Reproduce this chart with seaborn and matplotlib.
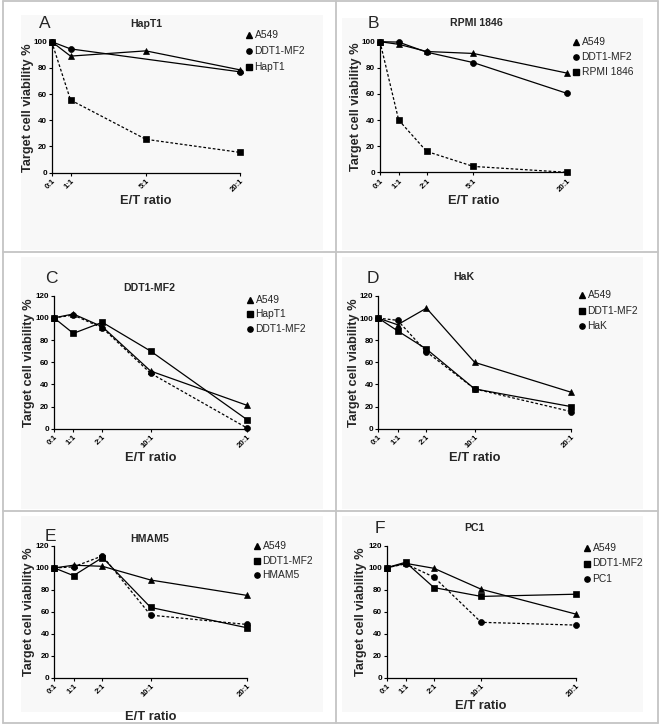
import numpy as np
import pandas as pd
import matplotlib
matplotlib.use("Agg")
import matplotlib.pyplot as plt
from matplotlib.lines import Line2D
from matplotlib.patches import Rectangle
import seaborn as sns

sns.set_style("ticks")
plt.rcParams['font.family'] = ['Liberation Sans', 'DejaVu Sans']

# ---------------- data ----------------
nan = np.nan
# Panel A : HapT1
a_labels = ['0:1', '1:1', '5:1', '20:1']
a_x = [0, 2, 10, 20]
a_series = ['A549', 'DDT1-MF2', 'HapT1']
a_A549 = [100, 89, 93, 78.5]
a_DDT1 = [100, 94.5, nan, 77]
a_HapT1 = [100, 55.5, 25.5, 15.5]

# Panel B : RPMI 1846
b_labels = ['0:1', '1:1', '2:1', '5:1', '20:1']
b_x = [0, 2, 5, 10, 20]
b_series = ['A549', 'DDT1-MF2', 'RPMI 1846']
b_A549 = [100, 98, 92.5, 91, 76]
b_DDT1 = [100, 99.7, 92, 84, 60.5]
b_RPMI = [100, 40, 16, 4.5, 0]

# Panel C : DDT1-MF2
c_labels = ['0:1', '1:1', '2:1', '10:1', '20:1']
c_x = [0, 2, 5, 10, 20]
c_series = ['A549', 'HapT1', 'DDT1-MF2']
c_A549 = [100, 103.5, 92, 52, 21]
c_HapT1 = [100, 86, 96, 70, 8]
c_DDT1 = [100, 102.5, 91, 50, 0.5]

# Panel D : HaK
d_labels = ['0:1', '1:1', '2:1', '10:1', '20:1']
d_x = [0, 2, 5, 10, 20]
d_series = ['A549', 'DDT1-MF2', 'HaK']
d_A549 = [100, 94, 109, 60, 33]
d_DDT1 = [100, 88.5, 72, 36, 20]
d_HaK = [100, 98, 69.5, 36, 15.5]

# Panel E : HMAM5
e_labels = ['0:1', '1:1', '2:1', '10:1', '20:1']
e_x = [0, 2, 5, 10, 20]
e_series = ['A549', 'DDT1-MF2', 'HMAM5']
e_A549 = [100, 102.5, 101.5, 89, 75]
e_DDT1 = [100, 93, 109.5, 64, 45.5]
e_HMAM5 = [100, 101, 111, 57, 48.5]

# Panel F : PC1
f_labels = ['0:1', '1:1', '2:1', '10:1', '20:1']
f_x = [0, 2, 5, 10, 20]
f_series = ['A549', 'DDT1-MF2', 'PC1']
f_A549 = [100, 104, 99.5, 80.5, 58]
f_DDT1 = [100, 105, 82, 74, 76]
f_PC1 = [100, 103.5, 91.5, 50.5, 48]

# ---------------- layout (pixels) ----------------
W, H = 660, 725
fig = plt.figure(figsize=(W / 100, H / 100), dpi=100)
fig.patch.set_facecolor('white')

def px_rect(x0, y0, x1, y1):
    return [x0 / W, 1 - y1 / H, (x1 - x0) / W, (y1 - y0) / H]

# light inner backgrounds of cells
for (x0, y0, x1, y1) in [(21, 15, 323, 250), (342, 18, 643, 250),
                         (21, 257, 323, 509), (342, 257, 643, 509),
                         (21, 516, 323, 712), (342, 516, 643, 712)]:
    fig.patches.append(Rectangle((x0 / W, 1 - y1 / H), (x1 - x0) / W, (y1 - y0) / H,
                                 transform=fig.transFigure, facecolor='#f8f8f8',
                                 edgecolor='none', zorder=-5))

# grid lines of the cells
gcol = '#c4c4c4'
for xv in [3, 336, 658]:
    fig.add_artist(Line2D([xv / W, xv / W], [1 - 1 / H, 1 - 723 / H],
                          transform=fig.transFigure, color=gcol, lw=1.3, zorder=-4))
for yv in [1, 252, 511, 723]:
    fig.add_artist(Line2D([3 / W, 658 / W], [1 - yv / H, 1 - yv / H],
                          transform=fig.transFigure, color=gcol, lw=1.3, zorder=-4))

panels = [
    dict(letter='A', title='HapT1', labels=a_labels, x=a_x, series=a_series,
         values=[a_A549, a_DDT1, a_HapT1], markers=['^', 'o', 's'], ymax=100,
         box=(51.7, 41.7, 240, 172.7), letter_xy=(45, 24), title_xy=(146, 24),
         leg=(249, 35, 16), ylab_x=27.5, xlab_y=201),
    dict(letter='B', title='RPMI 1846', labels=b_labels, x=b_x, series=b_series,
         values=[b_A549, b_DDT1, b_RPMI], markers=['^', 'o', 's'], ymax=100,
         box=(380, 41.7, 566.7, 172.3), letter_xy=(373, 23), title_xy=(476.7, 23),
         leg=(576, 42, 15), ylab_x=356, xlab_y=201),
    dict(letter='C', title='DDT1-MF2', labels=c_labels, x=c_x, series=c_series,
         values=[c_A549, c_HapT1, c_DDT1], markers=['^', 's', 'o'], ymax=120,
         box=(54, 295.7, 247.3, 428.7), letter_xy=(51.7, 278.3), title_xy=(149.3, 288.3),
         leg=(250, 300, 14.5), ylab_x=29.3, xlab_y=458),
    dict(letter='D', title='HaK', labels=d_labels, x=d_x, series=d_series,
         values=[d_A549, d_DDT1, d_HaK], markers=['^', 's', 'o'], ymax=120,
         box=(378.3, 296, 571, 428.7), letter_xy=(372.7, 278.3), title_xy=(464, 276.7),
         leg=(582, 295, 15.5), ylab_x=353.5, xlab_y=458),
    dict(letter='E', title='HMAM5', labels=e_labels, x=e_x, series=e_series,
         values=[e_A549, e_DDT1, e_HMAM5], markers=['^', 's', 'o'], ymax=120,
         box=(54.3, 546, 247, 677.7), letter_xy=(50, 536.5), title_xy=(149.3, 539.3),
         leg=(257, 546, 14.5), ylab_x=29.3, xlab_y=717),
    dict(letter='F', title='PC1', labels=f_labels, x=f_x, series=f_series,
         values=[f_A549, f_DDT1, f_PC1], markers=['^', 's', 'o'], ymax=120,
         box=(386.7, 545.7, 575.7, 678), letter_xy=(380, 528.3), title_xy=(474, 528.3),
         leg=(587, 548, 15.5), ylab_x=361, xlab_y=706),
]

for p in panels:
    x0, ytop, x1, ybot = p['box']
    ax = fig.add_axes(px_rect(x0, ytop, x1, ybot))
    ax.set_facecolor('none')

    rows = []
    for name, vals in zip(p['series'], p['values']):
        for xv, lab, v in zip(p['x'], p['labels'], vals):
            rows.append(dict(pos=xv, ratio=lab, line=name, viability=v))
    df = pd.DataFrame(rows)

    names = p['series']
    marker_map = {n: m for n, m in zip(names, p['markers'])}
    dash_map = {names[0]: '', names[1]: '', names[2]: (2.2, 1.6)}
    pal = {n: 'black' for n in names}

    sns.lineplot(data=df, x='pos', y='viability', hue='line', style='line',
                 hue_order=names, style_order=names, palette=pal,
                 markers=marker_map, dashes=dash_map, ax=ax, legend=False,
                 linewidth=0.9, markersize=4.3, markeredgecolor='black',
                 markeredgewidth=0.5, clip_on=False, zorder=3)

    ax.set_xlim(0, 20)
    ax.set_ylim(0, p['ymax'])
    ax.set_xticks(p['x'])
    ax.set_xticklabels(p['labels'], rotation=45, ha='right', rotation_mode='anchor',
                       fontsize=5.6, fontweight='bold')
    ax.set_yticks(np.arange(0, p['ymax'] + 1, 20))
    ax.set_yticklabels([str(v) for v in np.arange(0, p['ymax'] + 1, 20)],
                       fontsize=5.8, fontweight='bold')
    ax.tick_params(axis='both', direction='out', length=2.5, width=0.8, pad=1.0,
                   color='black', labelcolor='black')
    for s in ['top', 'right']:
        ax.spines[s].set_visible(False)
    for s in ['left', 'bottom']:
        ax.spines[s].set_linewidth(0.9)
        ax.spines[s].set_color('black')

    ax.set_ylabel('Target cell viability %', fontsize=9.2, fontweight='bold')
    ax.set_xlabel('E/T ratio', fontsize=9.3, fontweight='bold')
    w, h = x1 - x0, ybot - ytop
    ax.yaxis.set_label_coords((p['ylab_x'] - x0) / w, 0.5)
    ax.xaxis.set_label_coords(0.5, -(p['xlab_y'] - ybot) / h)
    ax.xaxis.label.set_va('center')
    ax.yaxis.label.set_va('center')

    lx, ly = p['letter_xy']
    fig.text(lx / W, 1 - ly / H, p['letter'], fontsize=12.5, ha='center', va='center')
    tx, ty = p['title_xy']
    fig.text(tx / W, 1 - ty / H, p['title'], fontsize=7.6, fontweight='bold',
             ha='center', va='center')

    mx, my, sp = p['leg']
    for i, (n, m) in enumerate(zip(names, p['markers'])):
        yy = my + i * sp
        fig.add_artist(Line2D([mx / W], [1 - yy / H], transform=fig.transFigure,
                              marker=m, markersize=3.8, color='black', linestyle='none'))
        fig.text((mx + 5.5) / W, 1 - yy / H, n, fontsize=7.4, ha='left', va='center')

fig.savefig('out.png', dpi=100)
